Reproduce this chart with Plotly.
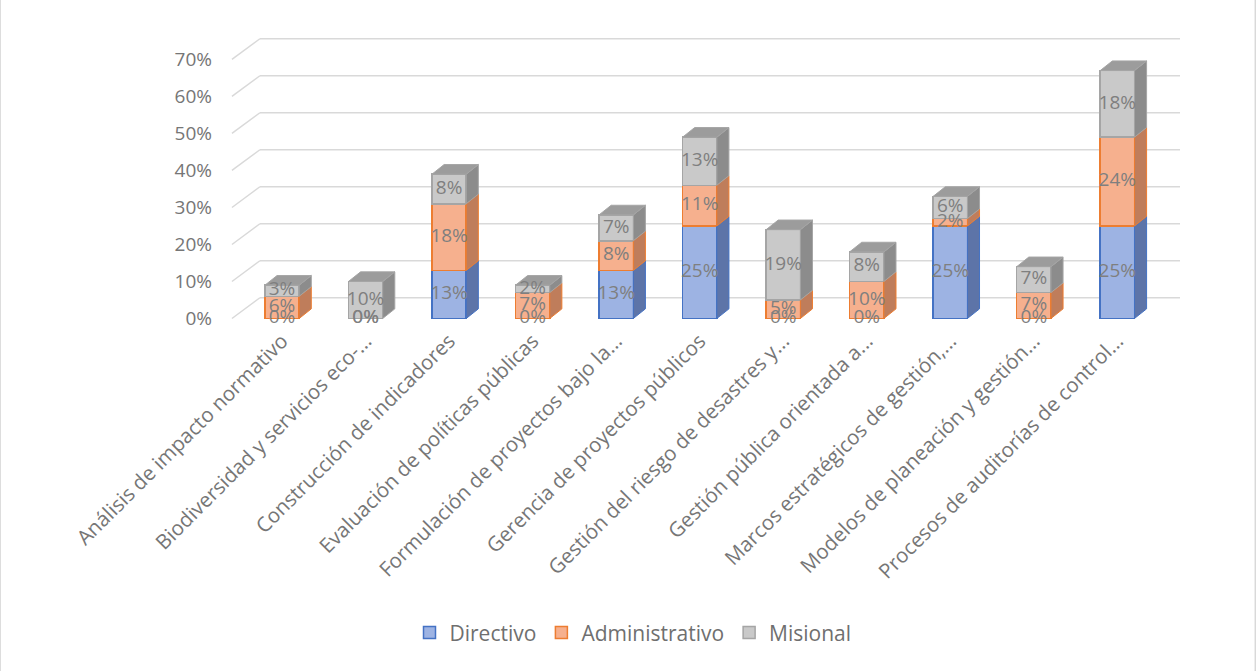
import plotly.graph_objects as go

# Course categories (labels as shown on the axis, truncated ones keep their ellipsis)
categories = [
    "Análisis de impacto normativo",
    "Biodiversidad y servicios eco-...",
    "Construcción de indicadores",
    "Evaluación de políticas públicas",
    "Formulación de proyectos bajo la...",
    "Gerencia de proyectos públicos",
    "Gestión del riesgo de desastres y...",
    "Gestión pública orientada a...",
    "Marcos estratégicos de gestión,...",
    "Modelos de planeación y gestión...",
    "Procesos de auditorías de control...",
]

# Percentages per staff level
directivo = [0, 0, 13, 0, 13, 25, 0, 0, 25, 0, 25]
administrativo = [6, 0, 18, 7, 8, 11, 5, 10, 2, 7, 24]
misional = [3, 10, 8, 2, 7, 13, 19, 8, 6, 7, 18]

y_ticks = [0, 10, 20, 30, 40, 50, 60, 70]

series = [
    ("Directivo", directivo, "#9db3e3", "#4472c4", "#5d74a8", "#6f86bd"),
    ("Administrativo", administrativo, "#f6b08e", "#ed7d31", "#bf7d5b", "#d7936f"),
    ("Misional", misional, "#c9c9c9", "#a5a5a5", "#8c8c8c", "#9c9c9c"),
]

BAR_W = 0.41      # front face width (category units)
DEPTH_X = 0.145   # extrusion to the right (category units)
DEPTH_Y = 2.6     # extrusion upward (percent units)
WALL_X = 0.335    # back wall offset for gridlines
WALL_Y = 5.6
X_LEFT = -0.60
X_RIGHT_BACK = 10.75

xs = list(range(len(categories)))
text_color = "#7f7f7f"
font_family = "Open Sans, Liberation Sans, sans-serif"

fig = go.Figure()

# Front faces of the stacked columns
for name, vals, fill, line, side, top in series:
    fig.add_trace(go.Bar(
        x=xs, y=vals, name=name, width=BAR_W,
        marker=dict(color=fill, line=dict(color=line, width=1.5)),
        hoverinfo="skip",
    ))

# Side faces and top faces giving the columns depth
base = [0.0] * len(xs)
tops = [0.0] * len(xs)
top_color = [None] * len(xs)
for name, vals, fill, line, side, top in series:
    sx, sy = [], []
    for i, v in enumerate(vals):
        y0, y1 = base[i], base[i] + v
        if v > 0:
            xr = xs[i] + BAR_W / 2
            sx += [xr, xr + DEPTH_X, xr + DEPTH_X, xr, xr, None]
            sy += [y0, y0 + DEPTH_Y, y1 + DEPTH_Y, y1, y0, None]
            tops[i] = y1
            top_color[i] = top
        base[i] = y1
    fig.add_trace(go.Scatter(
        x=sx, y=sy, mode="lines", fill="toself", fillcolor=side,
        line=dict(color=line, width=1), hoverinfo="skip", showlegend=False,
    ))

for color in {c for c in top_color if c}:
    tx, ty = [], []
    for i in xs:
        if top_color[i] != color:
            continue
        xl, xr, t = xs[i] - BAR_W / 2, xs[i] + BAR_W / 2, tops[i]
        tx += [xl, xl + DEPTH_X, xr + DEPTH_X, xr, xl, None]
        ty += [t, t + DEPTH_Y, t + DEPTH_Y, t, t, None]
    fig.add_trace(go.Scatter(
        x=tx, y=ty, mode="lines", fill="toself", fillcolor=color,
        line=dict(color="#a5a5a5", width=1), hoverinfo="skip", showlegend=False,
    ))

# Value labels centred on each segment
base = [0.0] * len(xs)
lx, ly, lt = [], [], []
for name, vals, *_ in series:
    for i, v in enumerate(vals):
        lx.append(xs[i])
        ly.append(base[i] + v / 2)
        lt.append(f"{v}%")
        base[i] += v
fig.add_trace(go.Scatter(
    x=lx, y=ly, text=lt, mode="text",
    textfont=dict(family=font_family, size=19, color=text_color),
    hoverinfo="skip", showlegend=False,
))

# Gridlines on the floor edge and back wall
shapes = []
for v in y_ticks:
    shapes.append(dict(type="line", xref="x", yref="y", layer="below",
                       x0=X_LEFT, y0=v, x1=X_LEFT + WALL_X, y1=v + WALL_Y,
                       line=dict(color="#d9d9d9", width=1.5)))
    shapes.append(dict(type="line", xref="x", yref="y", layer="below",
                       x0=X_LEFT + WALL_X, y0=v + WALL_Y, x1=X_RIGHT_BACK, y1=v + WALL_Y,
                       line=dict(color="#d9d9d9", width=1.5)))
# Chart frame (open at the bottom edge of the page)
shapes.append(dict(type="rect", xref="paper", yref="paper",
                   x0=-0.2345, x1=1.0735, y0=-1.3, y1=1.1655,
                   line=dict(color="#d9d9d9", width=2), layer="below"))

fig.update_layout(
    width=1256, height=671,
    margin=dict(l=225, r=71, t=38, b=347),
    paper_bgcolor="white", plot_bgcolor="white",
    barmode="stack",
    shapes=shapes,
    font=dict(family=font_family, color=text_color),
    showlegend=True,
    legend=dict(orientation="h", x=0.425, xanchor="center", y=-1.08, yanchor="middle",
                font=dict(size=21, color="#6f6f6f"), traceorder="normal",
                itemwidth=30),
    xaxis=dict(range=[-0.683, 10.81], tickvals=xs, ticktext=categories,
               tickangle=-45, showgrid=False, zeroline=False, showline=False,
               ticks="", tickfont=dict(size=20.5, color="#767676")),
    yaxis=dict(range=[-1.49, 75.8], tickvals=y_ticks,
               ticktext=[f"{v}%" for v in y_ticks],
               showgrid=False, zeroline=False, showline=False, ticks="",
               ticklabelstandoff=12,
               tickfont=dict(size=19, color="#767676")),
)

fig.write_html("out.html")
